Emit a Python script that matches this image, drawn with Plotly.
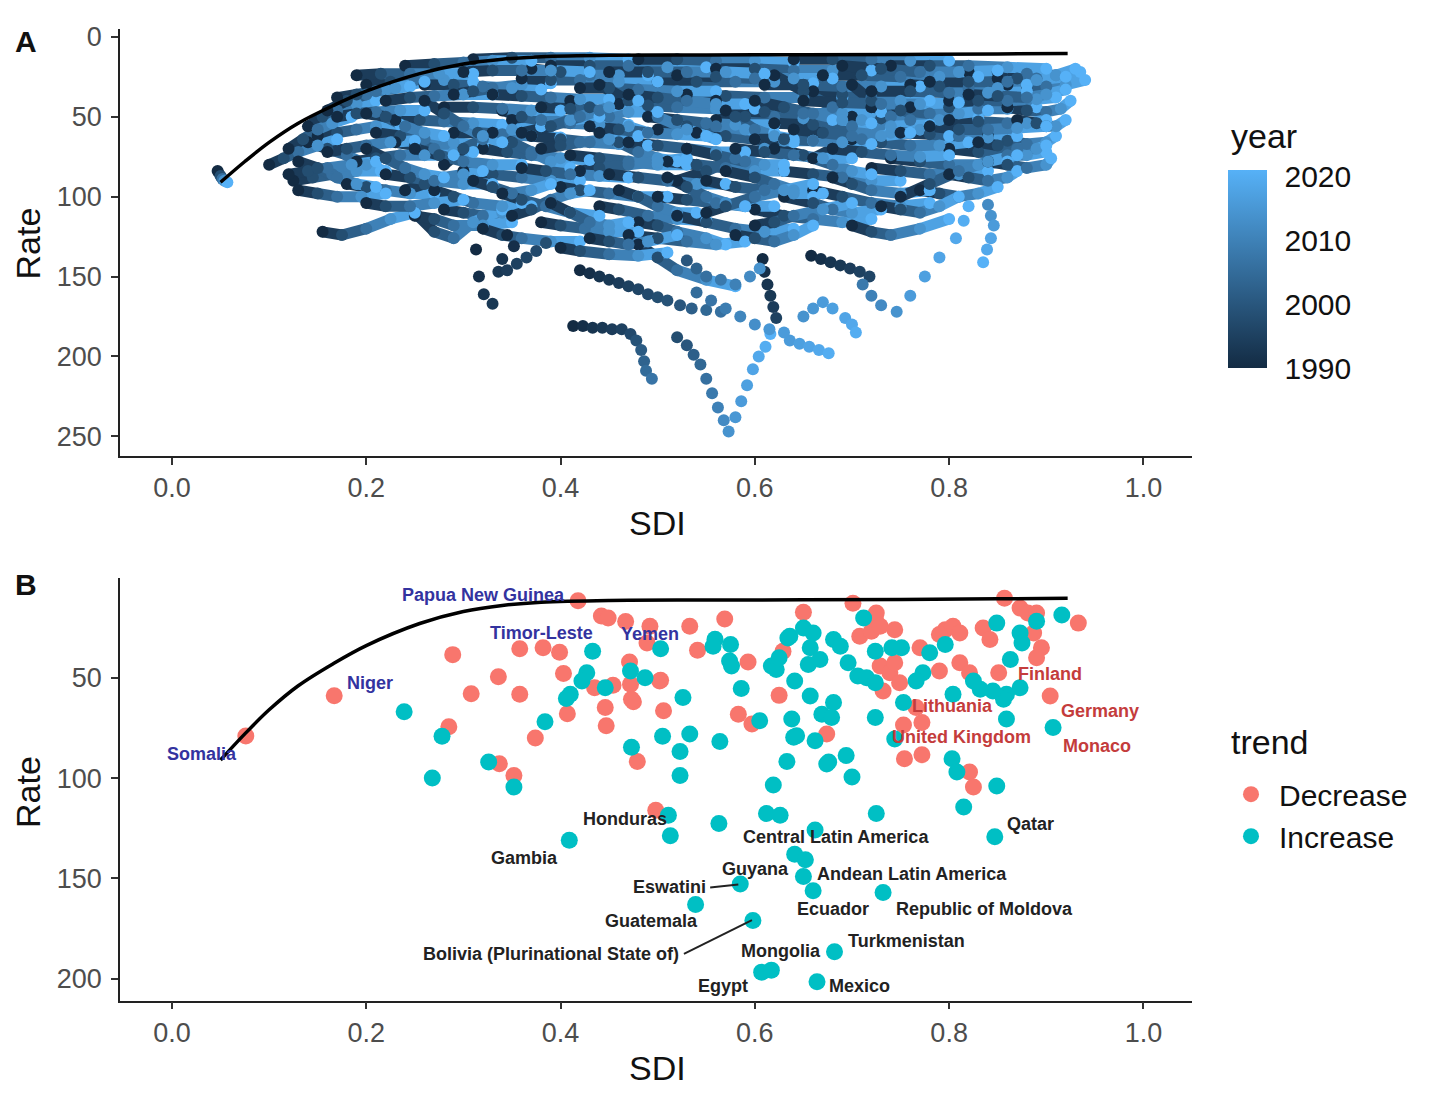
import plotly.graph_objects as go

W, H = 1429, 1099
OFF = 8  # the page adds an 8px body margin; shift the layout to compensate
FW, FH = W - OFF, H - OFF
FONT = "Liberation Sans, Arial, sans-serif"

# ---- panel A: each path is one location, sampled at these years ----
years = [1990, 1998, 2006, 2014, 2021]

# (SDI, rate) pairs at the years above
paths_left = [
    [(0.047, 84), (0.050, 87), (0.052, 89), (0.054, 90), (0.057, 91)],
    [(0.10, 80), (0.115, 76), (0.13, 72), (0.15, 68), (0.17, 64)],
    [(0.12, 70), (0.135, 64), (0.15, 58), (0.165, 54), (0.185, 50)],
    [(0.14, 56), (0.155, 50), (0.17, 46), (0.19, 42), (0.21, 40)],
    [(0.16, 46), (0.18, 40), (0.20, 36), (0.22, 33), (0.245, 31)],
    [(0.19, 24), (0.215, 23), (0.245, 23), (0.275, 23), (0.31, 23)],
    [(0.20, 30), (0.225, 28), (0.25, 27), (0.28, 27), (0.31, 28)],
    [(0.24, 18), (0.27, 17), (0.30, 16), (0.33, 15), (0.37, 15)],
    [(0.12, 86), (0.14, 84), (0.16, 82), (0.185, 80), (0.21, 78)],
    [(0.125, 90), (0.145, 88), (0.165, 86), (0.19, 84), (0.215, 84)],
    [(0.13, 96), (0.15, 98), (0.17, 100), (0.195, 100), (0.22, 98)],
    [(0.155, 122), (0.175, 124), (0.20, 120), (0.225, 114), (0.25, 110)],
    [(0.15, 62), (0.17, 60), (0.19, 58), (0.21, 56), (0.235, 55)],
    [(0.16, 72), (0.18, 70), (0.20, 68), (0.225, 66), (0.25, 65)],
    [(0.17, 50), (0.19, 48), (0.21, 47), (0.235, 46), (0.26, 46)],
    [(0.18, 92), (0.20, 94), (0.22, 96), (0.245, 98), (0.27, 98)],
    [(0.19, 78), (0.21, 76), (0.235, 74), (0.26, 74), (0.29, 74)],
    [(0.20, 104), (0.22, 106), (0.245, 106), (0.27, 104), (0.30, 102)],
    [(0.21, 60), (0.235, 62), (0.26, 64), (0.29, 66), (0.32, 68)],
    [(0.22, 40), (0.245, 38), (0.27, 37), (0.30, 36), (0.33, 36)],
    [(0.22, 86), (0.245, 88), (0.27, 90), (0.30, 92), (0.33, 92)],
    [(0.23, 52), (0.255, 52), (0.28, 53), (0.31, 54), (0.34, 55)],
    [(0.25, 112), (0.27, 114), (0.29, 118), (0.32, 118), (0.35, 116)],
    [(0.25, 70), (0.275, 74), (0.30, 78), (0.33, 80), (0.36, 80)],
    [(0.26, 30), (0.29, 30), (0.32, 31), (0.35, 32), (0.38, 33)],
    [(0.27, 96), (0.29, 100), (0.31, 104), (0.34, 106), (0.37, 106)],
    [(0.28, 44), (0.31, 44), (0.34, 45), (0.37, 46), (0.40, 46)],
    [(0.29, 60), (0.315, 60), (0.34, 61), (0.37, 62), (0.40, 63)],
    [(0.30, 84), (0.33, 86), (0.36, 88), (0.39, 90), (0.42, 90)],
    [(0.30, 22), (0.33, 21), (0.36, 21), (0.39, 21), (0.43, 22)],
    [(0.32, 70), (0.345, 72), (0.37, 74), (0.40, 76), (0.43, 77)],
    [(0.32, 120), (0.34, 124), (0.36, 126), (0.39, 128), (0.42, 128)],
    [(0.13, 78), (0.15, 82), (0.17, 88), (0.19, 92), (0.21, 94)],
    [(0.14, 66), (0.16, 70), (0.18, 74), (0.20, 80), (0.22, 84)],
    [(0.17, 38), (0.19, 36), (0.21, 34), (0.23, 32), (0.26, 28)],
    [(0.20, 48), (0.22, 50), (0.24, 56), (0.26, 60), (0.28, 62)],
    [(0.23, 66), (0.25, 68), (0.27, 70), (0.29, 72), (0.31, 72)],
    [(0.24, 96), (0.26, 92), (0.28, 88), (0.30, 86), (0.32, 84)],
    [(0.26, 40), (0.28, 48), (0.30, 56), (0.32, 62), (0.34, 66)],
    [(0.28, 108), (0.30, 110), (0.32, 112), (0.34, 110), (0.36, 104)],
    [(0.29, 36), (0.31, 34), (0.33, 32), (0.36, 30), (0.39, 29)],
    [(0.31, 90), (0.33, 94), (0.35, 98), (0.37, 96), (0.39, 92)],
    [(0.25, 110), (0.27, 122), (0.29, 126), (0.31, 116), (0.34, 108)],
    [(0.28, 80), (0.30, 70), (0.32, 64), (0.35, 58), (0.38, 56)],
    [(0.20, 70), (0.22, 76), (0.24, 82), (0.26, 86), (0.28, 88)],
]

paths_mid = [
    [(0.31, 14), (0.35, 13), (0.39, 13), (0.43, 13), (0.47, 14)],
    [(0.33, 36), (0.36, 37), (0.39, 38), (0.42, 39), (0.45, 39)],
    [(0.34, 98), (0.36, 102), (0.385, 106), (0.41, 110), (0.44, 112)],
    [(0.35, 52), (0.38, 53), (0.41, 54), (0.44, 55), (0.47, 55)],
    [(0.36, 26), (0.39, 27), (0.42, 27), (0.46, 28), (0.50, 28)],
    [(0.36, 82), (0.385, 84), (0.41, 86), (0.44, 87), (0.47, 88)],
    [(0.37, 62), (0.40, 64), (0.43, 66), (0.46, 67), (0.49, 68)],
    [(0.38, 116), (0.40, 118), (0.425, 120), (0.45, 122), (0.48, 122)],
    [(0.38, 44), (0.41, 45), (0.44, 46), (0.47, 47), (0.50, 47)],
    [(0.39, 18), (0.43, 18), (0.47, 18), (0.51, 19), (0.55, 19)],
    [(0.40, 94), (0.42, 96), (0.45, 98), (0.48, 100), (0.51, 100)],
    [(0.40, 132), (0.42, 134), (0.45, 136), (0.48, 137), (0.51, 135)],
    [(0.41, 74), (0.44, 76), (0.47, 78), (0.50, 80), (0.53, 80)],
    [(0.42, 32), (0.45, 32), (0.48, 33), (0.52, 34), (0.56, 34)],
    [(0.43, 56), (0.46, 58), (0.49, 60), (0.52, 61), (0.55, 62)],
    [(0.44, 106), (0.46, 108), (0.49, 112), (0.52, 114), (0.55, 115)],
    [(0.45, 22), (0.49, 22), (0.53, 22), (0.57, 22), (0.61, 23)],
    [(0.45, 86), (0.48, 88), (0.51, 90), (0.54, 92), (0.57, 92)],
    [(0.46, 42), (0.49, 43), (0.52, 44), (0.56, 45), (0.60, 45)],
    [(0.47, 66), (0.50, 68), (0.53, 70), (0.56, 72), (0.59, 72)],
    [(0.47, 124), (0.50, 126), (0.53, 128), (0.56, 130), (0.59, 128)],
    [(0.48, 14), (0.52, 14), (0.56, 15), (0.60, 15), (0.64, 16)],
    [(0.49, 50), (0.52, 52), (0.55, 54), (0.58, 55), (0.62, 55)],
    [(0.50, 100), (0.53, 102), (0.56, 104), (0.59, 106), (0.62, 106)],
    [(0.50, 28), (0.54, 28), (0.58, 28), (0.62, 28), (0.66, 29)],
    [(0.51, 78), (0.54, 80), (0.57, 82), (0.60, 84), (0.63, 84)],
    [(0.52, 112), (0.55, 116), (0.58, 120), (0.61, 122), (0.64, 120)],
    [(0.53, 36), (0.57, 37), (0.61, 38), (0.65, 38), (0.69, 38)],
    [(0.54, 60), (0.57, 62), (0.60, 64), (0.63, 65), (0.66, 65)],
    [(0.55, 90), (0.58, 94), (0.61, 96), (0.64, 98), (0.67, 98)],
    [(0.56, 20), (0.60, 20), (0.64, 21), (0.68, 21), (0.72, 21)],
    [(0.57, 46), (0.61, 47), (0.65, 48), (0.69, 48), (0.73, 47)],
    [(0.58, 70), (0.61, 72), (0.64, 74), (0.67, 76), (0.70, 76)],
    [(0.33, 60), (0.35, 66), (0.37, 72), (0.39, 78), (0.41, 82)],
    [(0.34, 46), (0.36, 50), (0.38, 52), (0.41, 52), (0.44, 50)],
    [(0.35, 112), (0.37, 108), (0.39, 102), (0.41, 98), (0.43, 96)],
    [(0.37, 20), (0.40, 22), (0.43, 24), (0.46, 24), (0.49, 24)],
    [(0.38, 70), (0.40, 68), (0.42, 66), (0.45, 64), (0.48, 62)],
    [(0.39, 104), (0.41, 110), (0.43, 116), (0.45, 118), (0.47, 116)],
    [(0.41, 40), (0.43, 44), (0.45, 50), (0.47, 56), (0.49, 60)],
    [(0.42, 84), (0.44, 82), (0.47, 80), (0.50, 78), (0.53, 76)],
    [(0.43, 126), (0.45, 128), (0.47, 130), (0.49, 128), (0.52, 124)],
    [(0.44, 60), (0.46, 66), (0.48, 72), (0.50, 76), (0.52, 78)],
    [(0.46, 96), (0.48, 100), (0.50, 106), (0.52, 110), (0.54, 110)],
    [(0.47, 36), (0.50, 38), (0.53, 40), (0.56, 42), (0.59, 42)],
    [(0.48, 116), (0.50, 118), (0.52, 122), (0.55, 126), (0.57, 130)],
    [(0.50, 58), (0.53, 56), (0.56, 56), (0.59, 58), (0.62, 60)],
    [(0.51, 88), (0.53, 94), (0.55, 100), (0.57, 104), (0.59, 106)],
    [(0.52, 24), (0.56, 25), (0.60, 26), (0.64, 26), (0.68, 26)],
    [(0.53, 70), (0.56, 74), (0.59, 78), (0.61, 80), (0.63, 80)],
    [(0.55, 110), (0.57, 106), (0.60, 100), (0.63, 96), (0.66, 92)],
    [(0.56, 52), (0.59, 50), (0.62, 50), (0.65, 51), (0.68, 52)],
    [(0.57, 84), (0.60, 88), (0.62, 92), (0.64, 96), (0.66, 100)],
    [(0.58, 124), (0.60, 126), (0.62, 128), (0.64, 124), (0.66, 118)],
    [(0.48, 130), (0.50, 138), (0.52, 146), (0.55, 152), (0.58, 156)],
    [(0.44, 30), (0.47, 40), (0.50, 50), (0.53, 58), (0.56, 64)],
    [(0.36, 60), (0.39, 56), (0.42, 50), (0.45, 44), (0.48, 40)],
    [(0.52, 90), (0.55, 84), (0.58, 76), (0.61, 70), (0.64, 66)],
    [(0.56, 40), (0.58, 50), (0.60, 58), (0.62, 62), (0.64, 64)],
]

paths_right = [
    [(0.60, 64), (0.63, 64), (0.66, 65), (0.69, 66), (0.72, 67)],
    [(0.60, 108), (0.63, 112), (0.66, 114), (0.69, 116), (0.72, 114)],
    [(0.61, 30), (0.65, 30), (0.69, 31), (0.73, 31), (0.77, 31)],
    [(0.62, 54), (0.66, 55), (0.70, 56), (0.74, 56), (0.78, 55)],
    [(0.63, 84), (0.66, 86), (0.69, 88), (0.72, 90), (0.75, 90)],
    [(0.64, 14), (0.68, 14), (0.72, 14), (0.76, 15), (0.80, 15)],
    [(0.65, 40), (0.69, 41), (0.73, 42), (0.77, 42), (0.81, 41)],
    [(0.66, 96), (0.69, 100), (0.72, 104), (0.75, 106), (0.78, 104)],
    [(0.67, 24), (0.71, 24), (0.75, 25), (0.79, 25), (0.83, 25)],
    [(0.68, 70), (0.71, 72), (0.74, 74), (0.77, 75), (0.80, 74)],
    [(0.70, 50), (0.73, 51), (0.76, 52), (0.79, 52), (0.83, 51)],
    [(0.70, 118), (0.72, 122), (0.74, 124), (0.77, 120), (0.80, 114)],
    [(0.72, 34), (0.76, 34), (0.80, 35), (0.84, 35), (0.88, 34)],
    [(0.72, 82), (0.75, 84), (0.78, 86), (0.81, 86), (0.84, 84)],
    [(0.74, 18), (0.78, 18), (0.82, 18), (0.86, 19), (0.90, 20)],
    [(0.75, 60), (0.78, 61), (0.81, 62), (0.84, 63), (0.87, 62)],
    [(0.76, 44), (0.80, 44), (0.83, 45), (0.86, 45), (0.89, 44)],
    [(0.77, 96), (0.79, 98), (0.81, 100), (0.83, 98), (0.85, 94)],
    [(0.78, 28), (0.82, 28), (0.86, 28), (0.89, 27), (0.92, 25)],
    [(0.80, 70), (0.83, 72), (0.86, 74), (0.88, 74), (0.90, 72)],
    [(0.80, 52), (0.83, 53), (0.86, 54), (0.88, 54), (0.90, 52)],
    [(0.82, 36), (0.85, 37), (0.88, 38), (0.90, 36), (0.92, 33)],
    [(0.82, 22), (0.85, 22), (0.88, 23), (0.91, 24), (0.935, 22)],
    [(0.84, 62), (0.86, 65), (0.88, 67), (0.90, 66), (0.91, 62)],
    [(0.84, 78), (0.86, 80), (0.88, 82), (0.90, 80), (0.905, 76)],
    [(0.86, 44), (0.88, 46), (0.90, 47), (0.915, 45), (0.925, 40)],
    [(0.86, 30), (0.88, 31), (0.90, 31), (0.92, 30), (0.94, 27)],
    [(0.60, 40), (0.63, 44), (0.66, 48), (0.69, 52), (0.72, 54)],
    [(0.62, 70), (0.65, 74), (0.68, 80), (0.70, 84), (0.72, 86)],
    [(0.63, 100), (0.66, 104), (0.68, 108), (0.70, 110), (0.73, 108)],
    [(0.64, 58), (0.67, 60), (0.70, 62), (0.73, 62), (0.76, 60)],
    [(0.66, 34), (0.69, 36), (0.72, 38), (0.75, 40), (0.78, 40)],
    [(0.68, 88), (0.70, 92), (0.72, 96), (0.75, 98), (0.78, 96)],
    [(0.69, 18), (0.73, 20), (0.77, 22), (0.81, 22), (0.85, 21)],
    [(0.70, 64), (0.73, 66), (0.76, 68), (0.79, 68), (0.82, 66)],
    [(0.72, 44), (0.75, 46), (0.78, 48), (0.81, 48), (0.84, 46)],
    [(0.73, 106), (0.75, 108), (0.77, 110), (0.79, 106), (0.81, 100)],
    [(0.74, 76), (0.77, 78), (0.80, 80), (0.83, 80), (0.86, 78)],
    [(0.76, 30), (0.79, 31), (0.82, 32), (0.85, 32), (0.88, 30)],
    [(0.78, 56), (0.81, 58), (0.84, 58), (0.87, 57), (0.90, 56)],
    [(0.80, 86), (0.82, 88), (0.84, 90), (0.86, 88), (0.87, 84)],
    [(0.80, 40), (0.83, 40), (0.86, 40), (0.89, 39), (0.91, 38)],
    [(0.83, 66), (0.85, 68), (0.87, 70), (0.89, 70), (0.90, 68)],
    [(0.85, 26), (0.87, 26), (0.89, 26), (0.91, 24), (0.93, 20)],
    [(0.87, 52), (0.89, 54), (0.90, 56), (0.91, 56), (0.92, 52)],
    [(0.60, 118), (0.62, 116), (0.64, 112), (0.67, 108), (0.70, 104)],
    [(0.62, 24), (0.65, 34), (0.68, 44), (0.71, 52), (0.74, 58)],
    [(0.70, 30), (0.72, 40), (0.74, 50), (0.77, 58), (0.80, 62)],
    [(0.75, 100), (0.78, 92), (0.81, 84), (0.84, 78), (0.87, 74)],
    [(0.66, 76), (0.68, 70), (0.71, 64), (0.74, 60), (0.77, 58)],
]

# loose dotted tails below the main band (SDI, rate, year)
tail_sdi = [0.413, 0.423, 0.433, 0.443, 0.453, 0.463, 0.472, 0.478, 0.483, 0.486, 0.488, 0.494,
            0.42, 0.43, 0.44, 0.45, 0.46, 0.47, 0.48, 0.49, 0.50, 0.51, 0.523, 0.535, 0.55, 0.565,
            0.52, 0.53, 0.537, 0.544, 0.55, 0.556, 0.562, 0.568, 0.573, 0.58, 0.586, 0.592,
            0.598, 0.604, 0.611, 0.616,
            0.313, 0.316, 0.321, 0.33, 0.345, 0.352, 0.34, 0.336, 0.345, 0.355, 0.365, 0.375, 0.385,
            0.608, 0.61, 0.613, 0.616, 0.619, 0.622,
            0.658, 0.668, 0.678, 0.688, 0.698, 0.708, 0.718,
            0.711, 0.72, 0.73, 0.746, 0.76, 0.775, 0.79, 0.807, 0.815, 0.82,
            0.84, 0.843, 0.846, 0.843, 0.839, 0.835,
            0.636, 0.646, 0.656, 0.666, 0.676, 0.65, 0.66, 0.67, 0.68, 0.693, 0.70, 0.704,
            0.54, 0.555, 0.57, 0.585, 0.60, 0.615, 0.63,
            0.53, 0.54, 0.55, 0.565, 0.58, 0.595, 0.605]
tail_rate = [181, 181, 182, 182, 183, 183, 186, 190, 196, 203, 209, 214,
             146, 148, 150, 152, 154, 156, 158, 161, 163, 165, 168, 170, 171, 172,
             188, 193, 199, 205, 214, 223, 232, 240, 247, 238, 228, 218,
             208, 200, 194, 186,
             133, 150, 161, 167, 124, 131, 139, 147, 146, 142, 138, 134, 129,
             139, 147, 155, 162, 169, 176,
             137, 139, 141, 143, 145, 147, 150,
             155, 162, 168, 172, 162, 150, 138, 126, 115, 106,
             105, 112, 118, 126, 133, 141,
             190, 192, 194, 196, 198, 175, 170, 166, 170, 176, 180, 185,
             160, 165, 170, 175, 180, 183, 185,
             140, 145, 150, 152, 155, 150, 145]
tail_year = [1990, 1991, 1992, 1993, 1994, 1995, 1997, 1999, 2001, 2003, 2005, 2007,
             1990, 1991, 1992, 1993, 1994, 1995, 1996, 1997, 1998, 1999, 2000, 2002, 2004, 2006,
             1998, 2000, 2002, 2004, 2006, 2008, 2010, 2012, 2014, 2015, 2016, 2017,
             2018, 2019, 2020, 2021,
             1990, 1991, 1992, 1993, 1990, 1991, 1992, 1993, 1994, 1995, 1996, 1997, 1998,
             1990, 1991, 1992, 1993, 1994, 1995,
             1990, 1991, 1992, 1993, 1994, 1995, 1996,
             2008, 2010, 2012, 2014, 2016, 2017, 2018, 2019, 2020, 2021,
             2012, 2014, 2016, 2018, 2019, 2021,
             2016, 2017, 2018, 2019, 2020, 2014, 2015, 2016, 2017, 2018, 2019, 2020,
             2005, 2007, 2009, 2011, 2013, 2015, 2016,
             2000, 2003, 2006, 2008, 2010, 2012, 2014]

# frontier line (both panels)
front_sdi = [0.05, 0.075, 0.10, 0.13, 0.166, 0.20, 0.255, 0.30, 0.34, 0.38,
             0.45, 0.55, 0.65, 0.75, 0.85, 0.922]
front_rate = [91, 78, 66, 54, 43, 34, 23, 17, 14, 12.4,
              11.5, 11.3, 11.2, 11.0, 10.7, 10.4]

# ---- panel B: one point per location ----
dec_sdi = [0.076, 0.167, 0.289, 0.308, 0.336, 0.358, 0.358, 0.285, 0.337, 0.352,
           0.374, 0.382, 0.399, 0.418, 0.442, 0.449, 0.467, 0.492, 0.489, 0.533,
           0.569, 0.541, 0.403, 0.407, 0.435, 0.454, 0.446, 0.447, 0.471, 0.472,
           0.503, 0.475, 0.506, 0.479, 0.498, 0.593, 0.583, 0.597, 0.625, 0.629,
           0.650, 0.701, 0.708, 0.724, 0.720, 0.744, 0.725, 0.729, 0.729, 0.739,
           0.770, 0.796, 0.804, 0.790, 0.811, 0.835, 0.842, 0.857, 0.873, 0.881,
           0.890, 0.887, 0.895, 0.890, 0.851, 0.933, 0.904, 0.811, 0.821, 0.790,
           0.749, 0.744, 0.732, 0.766, 0.753, 0.772, 0.754, 0.772, 0.821, 0.825,
           0.674, 0.473, 0.502]
dec_rate = [79, 59, 38.5, 58, 49.5, 35.6, 58.2, 74.4, 92.9, 98.7,
            80, 35.1, 37.3, 11.7, 19.2, 20.3, 22, 24.4, 32.7, 24.4,
            20.8, 36.3, 47.9, 68, 55, 53.8, 64.9, 73.9, 42.2, 53.3,
            51.3, 62, 66.5, 91.7, 116, 42.2, 68.2, 73.1, 58.8, 36.8,
            17.4, 12.9, 29.4, 20.3, 26.9, 26.1, 17.8, 24.4, 44.2, 47.5,
            35.1, 26.1, 24.4, 28.5, 27.7, 25.2, 31, 10.4, 15.3, 17.8,
            17.8, 27.7, 35.1, 40.1, 47.5, 22.8, 59.1, 42.6, 47.5, 46.7,
            52.5, 42.6, 56.6, 64.9, 73.6, 72.3, 90.4, 88.4, 97, 104.5,
            78, 60.7, 51.6]

inc_sdi = [0.239, 0.278, 0.268, 0.326, 0.352, 0.384, 0.433, 0.427, 0.422, 0.410,
           0.406, 0.446, 0.472, 0.487, 0.503, 0.526, 0.473, 0.505, 0.523, 0.533,
           0.523, 0.564, 0.619, 0.511, 0.513, 0.409, 0.563, 0.559, 0.575, 0.574,
           0.557, 0.576, 0.586, 0.605, 0.634, 0.617, 0.622, 0.641, 0.638, 0.640,
           0.633, 0.612, 0.626, 0.625, 0.636, 0.650, 0.660, 0.657, 0.655, 0.667,
           0.681, 0.688, 0.696, 0.706, 0.715, 0.712, 0.724, 0.741, 0.751, 0.724,
           0.657, 0.681, 0.669, 0.679, 0.643, 0.662, 0.676, 0.694, 0.700, 0.724,
           0.725, 0.674, 0.780, 0.796, 0.849, 0.890, 0.873, 0.875, 0.863, 0.916,
           0.907, 0.873, 0.859, 0.856, 0.845, 0.832, 0.825, 0.804, 0.859, 0.773,
           0.766, 0.753, 0.744, 0.803, 0.808, 0.849, 0.815, 0.847, 0.662, 0.641,
           0.652, 0.650, 0.660, 0.732, 0.585, 0.539, 0.598, 0.682, 0.607, 0.617,
           0.664]
inc_rate = [67, 79.2, 100, 92, 104.5, 71.9, 36.8, 47.5, 51.6, 58.2,
            60.4, 55, 46.7, 50, 35.6, 59.9, 84.7, 79.2, 86.8, 78,
            98.7, 81.8, 103.5, 118.5, 128.7, 131, 122.6, 30.8, 33.5, 41.7,
            34.3, 44.2, 55.4, 71.4, 30.2, 44.2, 45.9, 51.6, 70.6, 79.7,
            91.7, 117.7, 118.5, 40, 29.4, 25.2, 27.7, 35.1, 43.4, 40.9,
            31, 34.3, 42.6, 49.2, 50, 20.3, 36.8, 35.1, 35.1, 52.5,
            59.1, 62.4, 68.2, 69.8, 78.9, 81.4, 92, 88.8, 99.5, 69.8,
            117.7, 93, 37.6, 33.5, 22.8, 21.9, 27.7, 32.7, 40.9, 18.7,
            74.8, 55, 58.2, 60.7, 56.6, 55.8, 51.6, 58.2, 70.6, 47.5,
            51.6, 62.4, 80.5, 90.4, 97, 104, 114.4, 129.2, 125.9, 138,
            140.7, 149, 156.1, 157, 152.8, 163, 171, 186.5, 196.7, 195.7,
            201.5]

# text labels of panel B: name, label SDI, label rate, group
labels = [
    ("Papua New Guinea", 0.321, 8.9, "low"),
    ("Timor-Leste", 0.380, 27.7, "low"),
    ("Yemen", 0.492, 28.2, "low"),
    ("Niger", 0.204, 52.5, "low"),
    ("Somalia", 0.031, 88.1, "low"),
    ("Finland", 0.904, 48.0, "high"),
    ("Lithuania", 0.803, 63.9, "high"),
    ("Germany", 0.955, 66.8, "high"),
    ("United Kingdom", 0.813, 79.7, "high"),
    ("Monaco", 0.952, 84.2, "high"),
    ("Honduras", 0.466, 120.3, "other"),
    ("Qatar", 0.884, 122.8, "other"),
    ("Central Latin America", 0.684, 129.2, "other"),
    ("Gambia", 0.363, 139.6, "other"),
    ("Guyana", 0.601, 145.5, "other"),
    ("Andean Latin America", 0.762, 148.0, "other"),
    ("Eswatini", 0.512, 154.5, "other"),
    ("Ecuador", 0.680, 165.3, "other"),
    ("Republic of Moldova", 0.836, 165.3, "other"),
    ("Guatemala", 0.494, 171.3, "other"),
    ("Turkmenistan", 0.756, 181.2, "other"),
    ("Bolivia (Plurinational State of)", 0.390, 187.6, "other"),
    ("Mongolia", 0.627, 186.1, "other"),
    ("Egypt", 0.567, 203.5, "other"),
    ("Mexico", 0.708, 203.5, "other"),
]
label_colors = {"low": "#33339f", "high": "#c43c3c", "other": "#222222"}
# leader lines: (sdi0, rate0, sdi1, rate1)
leaders = [(0.554, 154.5, 0.583, 153.0), (0.527, 187.6, 0.597, 170.8)]

LOW_RGB, HIGH_RGB = (19, 43, 67), (86, 177, 247)


def year_col(y):
    t = (y - 1990) / 31
    return "rgb(%d,%d,%d)" % tuple(round(a + (b - a) * t) for a, b in zip(LOW_RGB, HIGH_RGB))


def fx(p):
    return (p - OFF) / FW


def fy(p):
    return 1 - (p - OFF) / FH


paths = paths_left + paths_mid + paths_right
# interleave so neighbouring paths are not always stacked the same way
paths = paths[::3] + paths[1::3] + paths[2::3]

fig = go.Figure()

for path in paths:
    for k in range(len(years) - 1):
        fig.add_trace(go.Scatter(
            x=[path[k][0], path[k + 1][0]], y=[path[k][1], path[k + 1][1]],
            mode="lines", line=dict(color=year_col((years[k] + years[k + 1]) / 2), width=11),
            xaxis="x", yaxis="y", showlegend=False, hoverinfo="skip"))

mx = [p[0] for path in paths for p in path] + tail_sdi
my = [p[1] for path in paths for p in path] + tail_rate
mc = years * len(paths) + tail_year
fig.add_trace(go.Scatter(
    x=mx, y=my, mode="markers", xaxis="x", yaxis="y", showlegend=False,
    marker=dict(size=12, color=mc, cmin=1990, cmax=2021,
                colorscale=[[0, "#132B43"], [1, "#56B1F7"]], line=dict(width=0),
                colorbar=dict(
                    thickness=39, thicknessmode="pixels", len=198, lenmode="pixels",
                    x=fx(1228), xanchor="left", xpad=0,
                    y=fy(264), yanchor="middle", ypad=0,
                    tickvals=[1990, 2000, 2010, 2020], ticks="outside",
                    tickcolor="white", ticklen=12,
                    tickfont=dict(size=30, color="#111"), outlinewidth=0))))

fig.add_trace(go.Scatter(x=front_sdi, y=front_rate, mode="lines", xaxis="x", yaxis="y",
                         line=dict(color="black", width=3.5, shape="spline"),
                         showlegend=False, hoverinfo="skip"))

# panel B
fig.add_trace(go.Scatter(x=dec_sdi, y=dec_rate, mode="markers", name="Decrease",
                         xaxis="x2", yaxis="y2",
                         marker=dict(size=17, color="#F8766D", line=dict(width=0))))
fig.add_trace(go.Scatter(x=inc_sdi, y=inc_rate, mode="markers", name="Increase",
                         xaxis="x2", yaxis="y2",
                         marker=dict(size=17, color="#00BFC4", line=dict(width=0))))
fig.add_trace(go.Scatter(x=front_sdi, y=front_rate, mode="lines", xaxis="x2", yaxis="y2",
                         line=dict(color="black", width=3.5, shape="spline"),
                         showlegend=False, hoverinfo="skip"))

annotations = []
for text, sx, ry, grp in labels:
    annotations.append(dict(x=sx, y=ry, xref="x2", yref="y2", text="<b>%s</b>" % text,
                            showarrow=False, xanchor="center", yanchor="middle",
                            font=dict(size=18, color=label_colors[grp], family=FONT)))

shapes = [dict(type="line", xref="x2", yref="y2", x0=a, y0=b, x1=c, y1=d,
               line=dict(color="#222", width=2)) for a, b, c, d in leaders]


def ptext(text, x, y, size, bold=False, angle=0, anchor="center"):
    return dict(x=fx(x), y=fy(y), xref="paper", yref="paper", showarrow=False,
                xanchor=anchor, yanchor="middle",
                text="<b>%s</b>" % text if bold else text, textangle=angle,
                font=dict(size=size, color="#111", family=FONT))


annotations += [
    ptext("A", 26, 35, 30, bold=True),
    ptext("B", 26, 581, 30, bold=True),
    ptext("Rate", 28, 238, 34, angle=-90),
    ptext("Rate", 28, 790, 34, angle=-90),
    ptext("SDI", 657, 519, 34),
    ptext("SDI", 657, 1068, 34),
    ptext("year", 1229, 130, 34, anchor="left"),
    ptext("trend", 1229, 740, 34, anchor="left"),
]

axis_style = dict(showline=True, linecolor="#222", linewidth=1.5, ticks="outside",
                  ticklen=7, tickwidth=1.5, tickcolor="#333", showgrid=False,
                  zeroline=False, tickfont=dict(size=27, color="#4D4D4D", family=FONT))
x_ticks = dict(tickvals=[0, 0.2, 0.4, 0.6, 0.8, 1.0],
               ticktext=["0.0", "0.2", "0.4", "0.6", "0.8", "1.0"])
xdom = [fx(120), fx(1192)]

fig.update_layout(
    width=FW, height=FH, margin=dict(l=0, r=0, t=0, b=0),
    paper_bgcolor="white", plot_bgcolor="white",
    font=dict(family=FONT),
    xaxis=dict(domain=xdom, range=[-0.0535, 1.05], anchor="y", **x_ticks, **axis_style),
    yaxis=dict(domain=[fy(452), fy(22)], range=[262.4, -5.0], anchor="x",
               tickvals=[0, 50, 100, 150, 200, 250], ticklabelstandoff=4, **axis_style),
    xaxis2=dict(domain=xdom, range=[-0.0535, 1.05], anchor="y2", **x_ticks, **axis_style),
    yaxis2=dict(domain=[fy(1000), fy(575)], range=[210.9, 0.5], anchor="x2",
                tickvals=[50, 100, 150, 200], ticklabelstandoff=4, **axis_style),
    legend=dict(x=fx(1223), xanchor="left", y=fy(766), yanchor="top",
                font=dict(size=30, color="#111"), bgcolor="rgba(0,0,0,0)",
                itemwidth=46),
    annotations=annotations,
    shapes=shapes,
    showlegend=True,
)

fig.write_html("out.html")
